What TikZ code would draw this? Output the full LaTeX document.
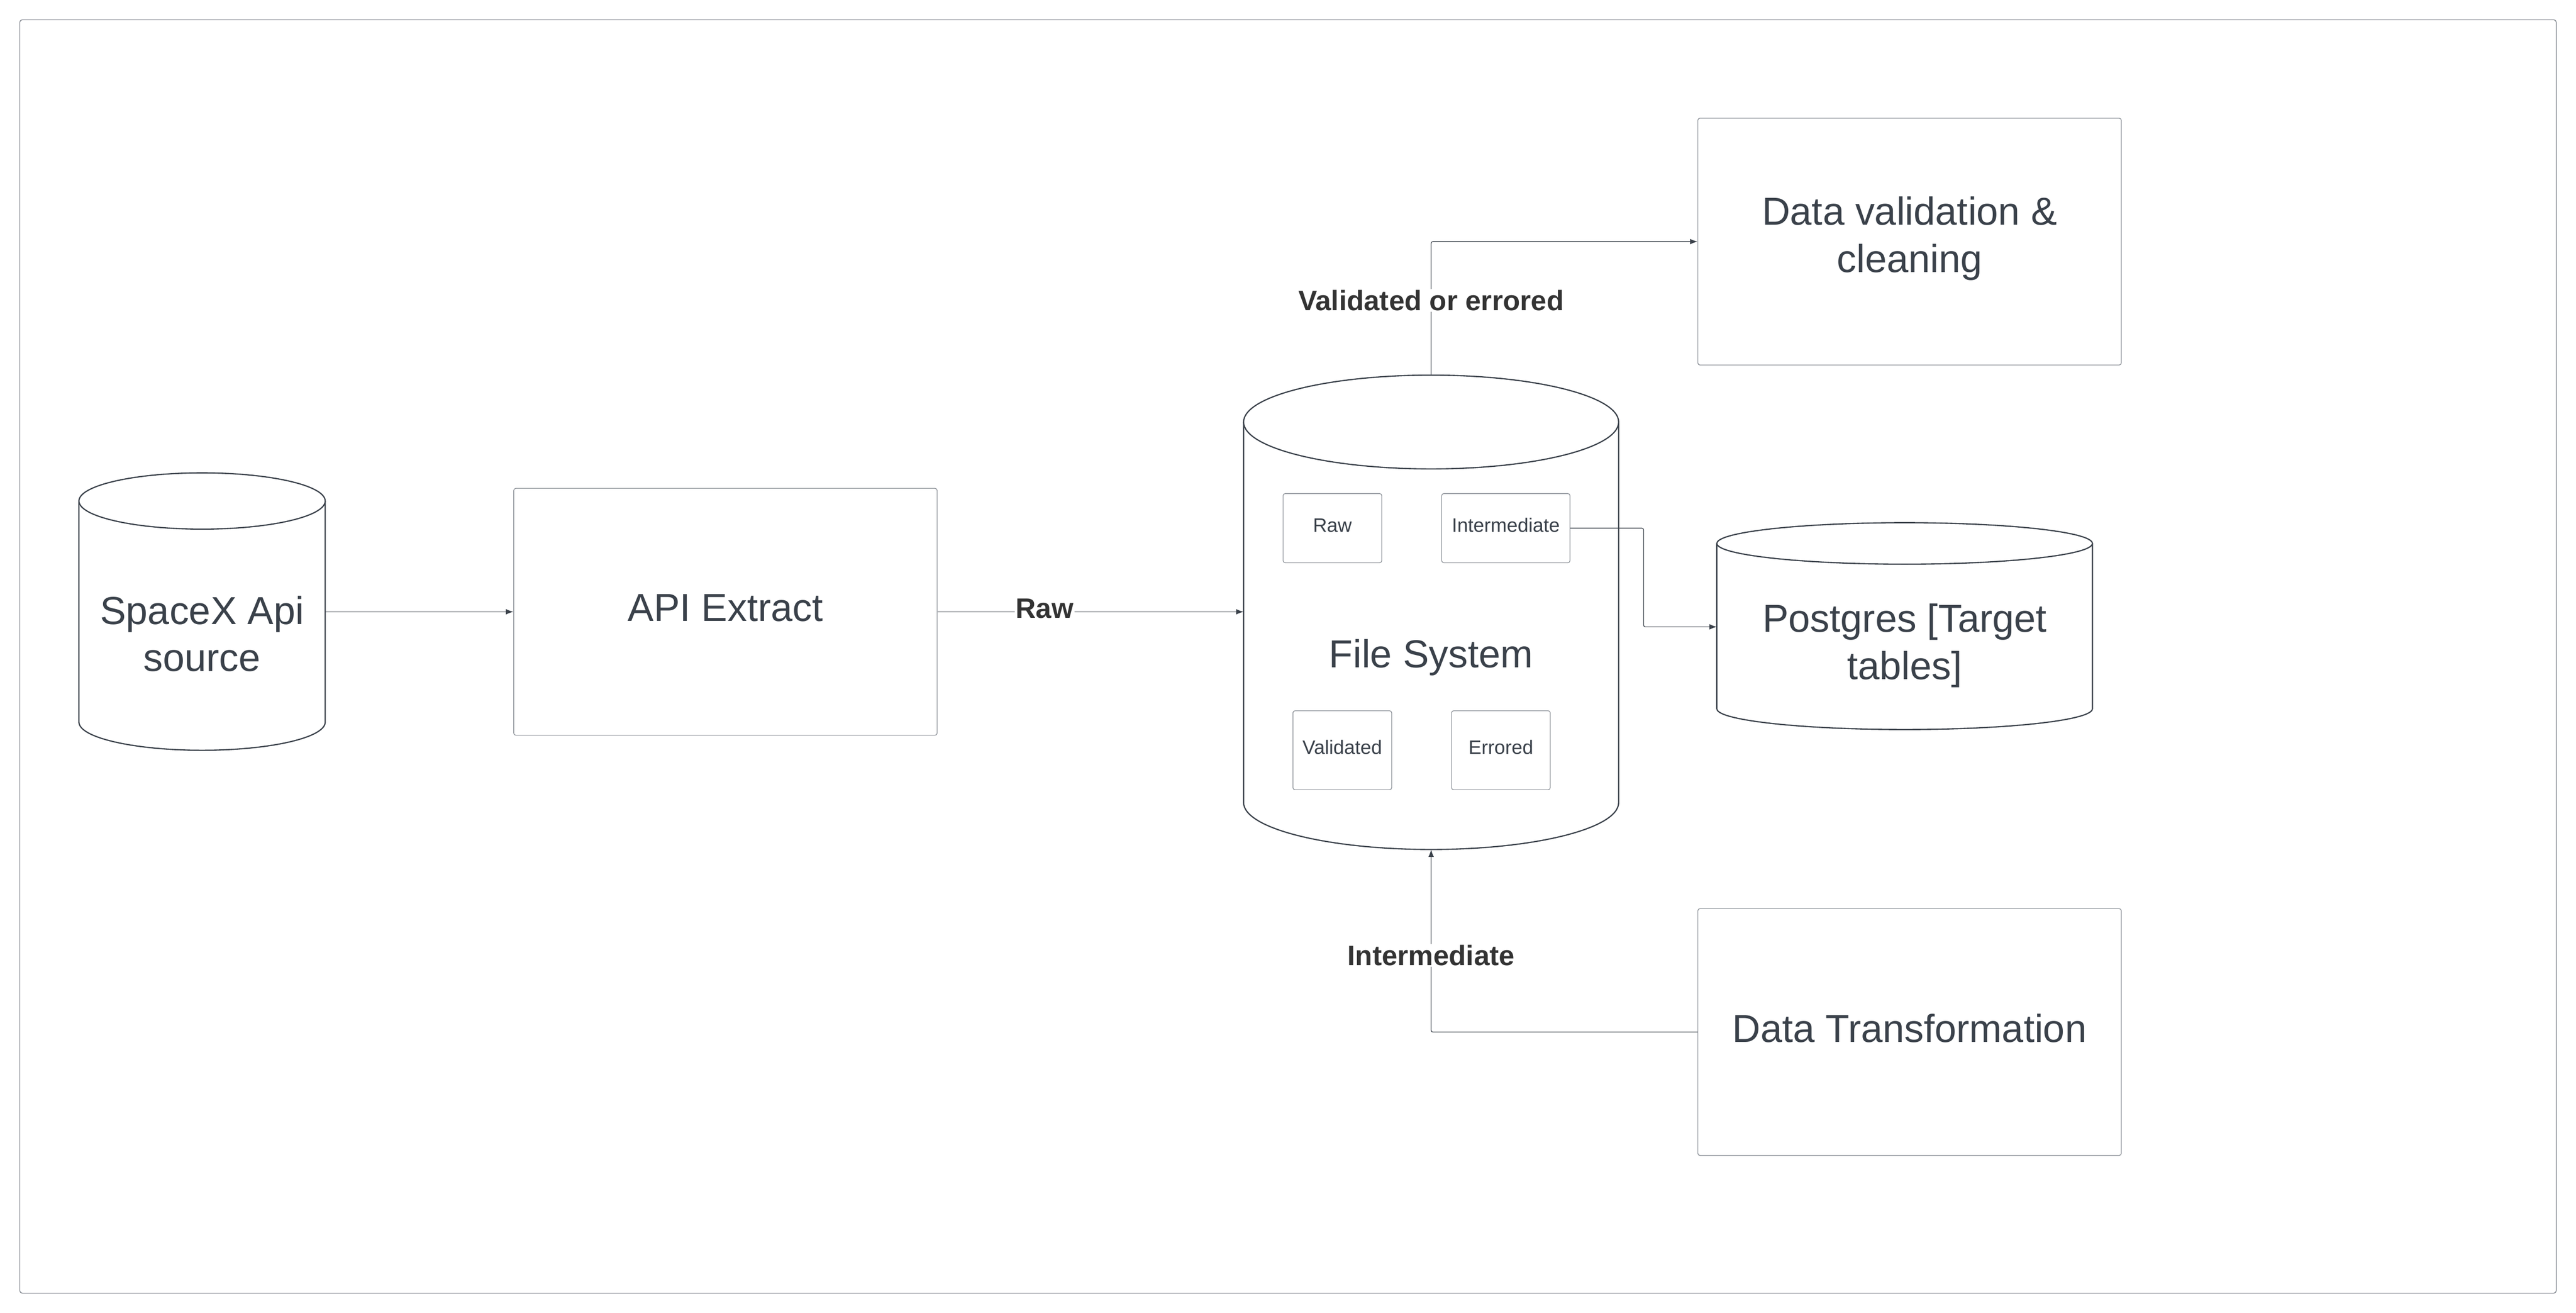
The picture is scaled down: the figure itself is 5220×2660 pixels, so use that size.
\documentclass[tikz,border=0pt]{standalone}
\usepackage{fontspec}
\setmainfont{Liberation Sans}
\usetikzlibrary{calc, positioning, arrows.meta}

\definecolor{ink}{HTML}{3A414A}
\definecolor{rim}{HTML}{8C9198}
\definecolor{tag}{HTML}{333333}

\tikzset{
  bigtext/.style={text=ink, inner sep=0pt, align=center, font=\fontsize{22.5}{27.3}\selectfont},
  box/.style={draw=rim, line width=0.4pt, rounded corners=1.2pt, fill=white, text=ink, inner sep=0pt, align=center},
  bigbox/.style={box, minimum width=85.8mm, minimum height=50mm, text depth=1.6mm, font=\fontsize{22.5}{27.3}\selectfont},
  smallbox/.style={box, minimum width=20mm, minimum height=14mm, text depth=1.2mm, font=\fontsize{11.2}{13.5}\selectfont},
  cyl/.style={draw=ink, line width=0.7pt, fill=white},
  flow/.style={draw=ink, line width=0.4pt, rounded corners=1pt, -{Latex[length=4.3pt,width=3.2pt]}},
  tagtext/.style={fill=white, text=tag, inner sep=0.6pt, font=\bfseries\fontsize{16.2}{19}\selectfont}
}

\begin{document}
\begin{tikzpicture}[x=0.1mm, y=-0.1mm]
% Canvas and outer frame
\useasboundingbox (0,0) rectangle (5220,2660);
\draw[rim, line width=0.45pt, rounded corners=1.5pt] (40,40) rectangle (5180,2620);

% SpaceX source cylinder
\draw[cyl] (160,1015) -- (160,1463) arc[start angle=180, end angle=0, x radius=249.5, y radius=57] -- (659,1015);
\draw[cyl] (409.5,1015) ellipse[x radius=249.5, y radius=57];
\node[bigtext] (src) at (409.5,1284) {SpaceX Api\\source};
\coordinate (src-e) at (659,1239.5);

% API extract
\node[bigbox] (api) at (1470,1239.5) {API Extract};

% File system cylinder with its folders
\draw[cyl] (2520,855) -- (2520,1626) arc[start angle=180, end angle=0, x radius=380, y radius=95] -- (3280,855);
\draw[cyl] (2900,855) ellipse[x radius=380, y radius=95];
\node[bigtext] (fs) at (2900,1332) {File System};
\coordinate (fs-n) at (2900,760);
\coordinate (fs-s) at (2900,1721);
\coordinate (fs-w) at (2520,1240);
\node[smallbox] (raw) at (2700,1070) {Raw};
\node[smallbox, minimum width=26mm, right=12mm of raw] (inter) {Intermediate};
\node[smallbox, minimum height=16mm] (valid) at (2720,1520) {Validated};
\node[smallbox, minimum height=16mm, right=12mm of valid] (err) {Errored};

% Postgres cylinder
\draw[cyl] (3479,1101) -- (3479,1436) arc[start angle=180, end angle=0, x radius=380.5, y radius=42] -- (4240,1101);
\draw[cyl] (3859.5,1101) ellipse[x radius=380.5, y radius=42];
\node[bigtext] (pg) at (3859.5,1308) {Postgres [Target\\tables]};
\coordinate (pg-w) at (3479,1270);

% Validation and transformation steps
\node[bigbox, text depth=2.9mm] (dv) at (3869.5,489.5) {Data validation \&\\cleaning};
\node[bigbox, below=110mm of dv] (dt) {Data Transformation};

% Connectors
\draw[flow] (src-e) -- (src-e -| api.west);
\draw[flow] (api.east) -- node[tagtext, pos=.35, yshift=0.7mm] (rawtag) {Raw} (api.east -| fs-w);
\draw[flow] (fs-n) -- node[tagtext, pos=.56] (vetag) {Validated or errored} (fs-n |- dv.west) -- (dv.west);
\coordinate (mid) at ($(inter.east)!.5!(pg-w)$);
\draw[flow] (inter.east) -- (inter.east -| mid) -- (mid |- pg-w) -- (pg-w);
\draw[flow] (dt.west) -- (fs-s |- dt.west) -- node[tagtext, pos=.42] (intag) {Intermediate} (fs-s);
\end{tikzpicture}
\end{document}
